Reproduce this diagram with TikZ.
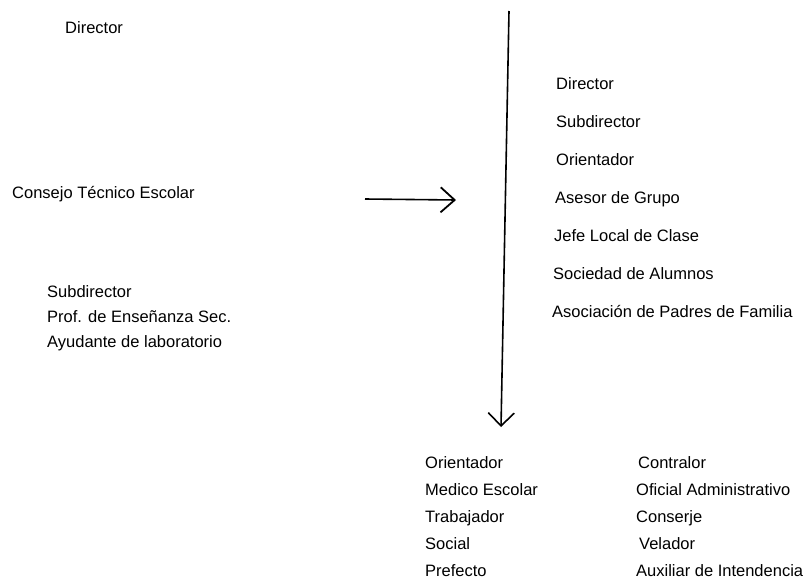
\documentclass[tikz,border=0pt]{standalone}
\usepackage{fontspec}
\setmainfont{Liberation Sans}
\usetikzlibrary{positioning, arrows.meta}

\begin{document}
\begin{tikzpicture}[
    x=1pt, y=-1pt,
    every node/.style={font=\fontsize{16.5}{20}\selectfont, inner sep=0pt, anchor=west, text height=0.72em, text depth=0pt}, % plain labels, no frames
    chevron/.style={line width=1.6pt, -{Straight Barb[length=13pt, width=26pt, line width=1.6pt]}}
]
\useasboundingbox (0,0) rectangle (812,584);
% left side
\node (dirL) at (65,30) {Director};
\node (cte) at (12,195) {Consejo Técnico Escolar};
\node (subL) at (47,294) {Subdirector};
\node (prof) [below=25pt of subL.west, anchor=west] {Prof. de Enseñanza Sec.};
\node (ayud) [below=25pt of prof.west, anchor=west] {Ayudante de laboratorio};
% right column
\node (dirR) at (556,86) {Director};
\node (subR) [below=38pt of dirR.west, anchor=west] {Subdirector};
\node (oriR) [below=38pt of subR.west, anchor=west] {Orientador};
\node (ases) [below=38pt of oriR.west, anchor=west, xshift=-1pt] {Asesor de Grupo};
\node (jefe) [below=38pt of ases.west, anchor=west, xshift=-1pt] {Jefe Local de Clase};
\node (socA) [below=38pt of jefe.west, anchor=west, xshift=-1pt] {Sociedad de Alumnos};
\node (asoc) [below=38pt of socA.west, anchor=west, xshift=-1pt] {Asociación de Padres de Familia};
% bottom, first column
\node (oriB) at (425,465) {Orientador};
\node (medi) [below=27pt of oriB.west, anchor=west] {Medico Escolar};
\node (trab) [below=27pt of medi.west, anchor=west] {Trabajador};
\node (soci) [below=27pt of trab.west, anchor=west] {Social};
\node (pref) [below=27pt of soci.west, anchor=west] {Prefecto};
% bottom, second column
\node (cont) at (638,465) {Contralor};
\node (ofic) [below=27pt of cont.west, anchor=west, xshift=-2pt] {Oficial Administrativo};
\node (cons) [below=27pt of ofic.west, anchor=west] {Conserje};
\node (vela) [below=27pt of cons.west, anchor=west, xshift=3pt] {Velador};
\node (auxi) [below=27pt of vela.west, anchor=west, xshift=-3pt] {Auxiliar de Intendencia};
% arrows
\coordinate (vtop) at (509,11);
\coordinate (vbot) at (501,427);
\coordinate (hbeg) at (365,199);
\coordinate (hend) at (456,200);
\draw[chevron] (vtop) -- (vbot);
\draw[chevron, -{Straight Barb[length=14pt, width=25pt, line width=1.8pt]}] (hbeg) -- (hend);
\end{tikzpicture}
\end{document}
